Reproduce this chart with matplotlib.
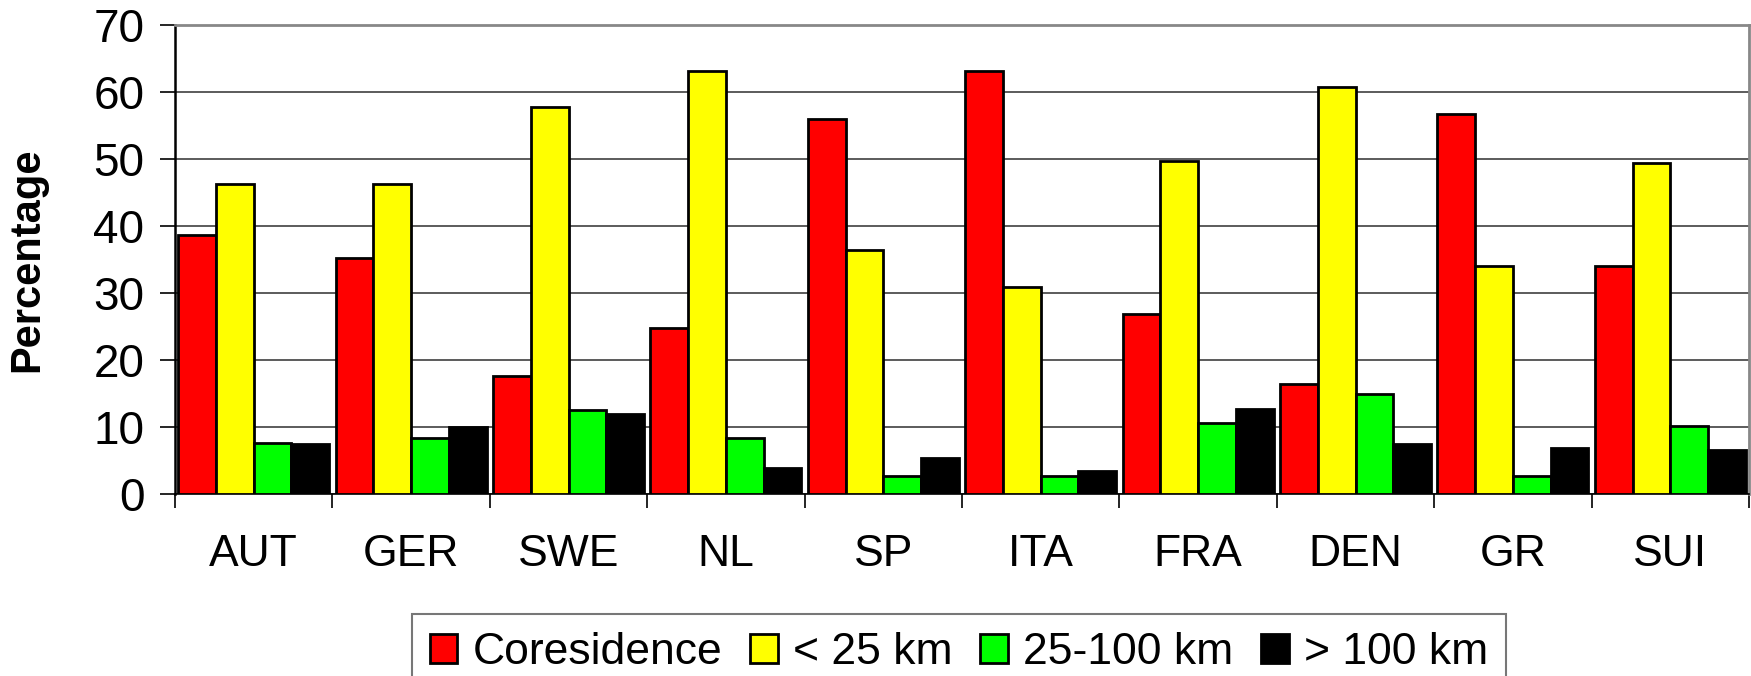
import matplotlib
matplotlib.use("Agg")
import matplotlib.pyplot as plt
import numpy as np

plt.rcParams['font.family'] = ['Liberation Sans', 'DejaVu Sans']

countries = ['AUT', 'GER', 'SWE', 'NL', 'SP', 'ITA', 'FRA', 'DEN', 'GR', 'SUI']
coresidence = [38.6, 35.2, 17.6, 24.8, 55.9, 63.1, 26.8, 16.4, 56.7, 34.0]
within_25 = [46.3, 46.3, 57.8, 63.1, 36.4, 30.9, 49.7, 60.8, 34.0, 49.4]
km_25_100 = [7.6, 8.4, 12.6, 8.4, 2.7, 2.7, 10.6, 14.9, 2.7, 10.2]
over_100 = [7.4, 10.0, 11.9, 3.9, 5.4, 3.5, 12.7, 7.4, 6.9, 6.6]

series = [
    ('Coresidence', coresidence, '#FF0000'),
    ('< 25 km', within_25, '#FFFF00'),
    ('25-100 km', km_25_100, '#00FF00'),
    ('> 100 km', over_100, '#000000'),
]

fig = plt.figure(figsize=(17.51, 6.76), dpi=100)
ax = fig.add_axes([175 / 1751, 1 - 494 / 676, 1574 / 1751, 469 / 676])

x = np.arange(len(countries))
width = 0.24
for i, (name, vals, color) in enumerate(series):
    ax.bar(x + (i - 1.5) * width, vals, width, color=color, edgecolor='black',
           linewidth=2.0, label=name, zorder=3)

ax.set_xlim(-0.5, len(countries) - 0.5)
ax.set_ylim(0, 70)
ax.set_yticks(range(0, 71, 10))
ax.yaxis.grid(True, color='#404040', linewidth=1.2, zorder=0)

ax.set_xticks(x)
ax.set_xticklabels(countries, fontsize=32)
ax.tick_params(axis='x', length=0, pad=29)
ax.set_xticks(np.arange(-0.5, len(countries)), minor=True)
ax.tick_params(axis='x', which='minor', length=10, width=1.2, direction='out')
ax.tick_params(axis='y', labelsize=33, length=11, width=1.2, pad=11)

for side in ['top', 'right']:
    ax.spines[side].set_color('#888888')
    ax.spines[side].set_linewidth(2)
ax.spines['left'].set_linewidth(1.8)
ax.spines['bottom'].set_linewidth(1.2)

ax.set_ylabel('Percentage', fontsize=30, fontweight='bold')
ax.yaxis.set_label_coords(-0.081, 0.5)

leg = fig.legend(loc='upper left', bbox_to_anchor=(412 / 1751, 1 - 614 / 676),
                 ncol=4, fontsize=32, frameon=True, fancybox=False,
                 handlelength=0.62, handleheight=0.62, handletextpad=0.35,
                 columnspacing=0.62, borderpad=0.4, borderaxespad=0)
leg.get_frame().set_edgecolor('#555555')
leg.get_frame().set_linewidth(1.5)

fig.savefig('out.png', dpi=100)
